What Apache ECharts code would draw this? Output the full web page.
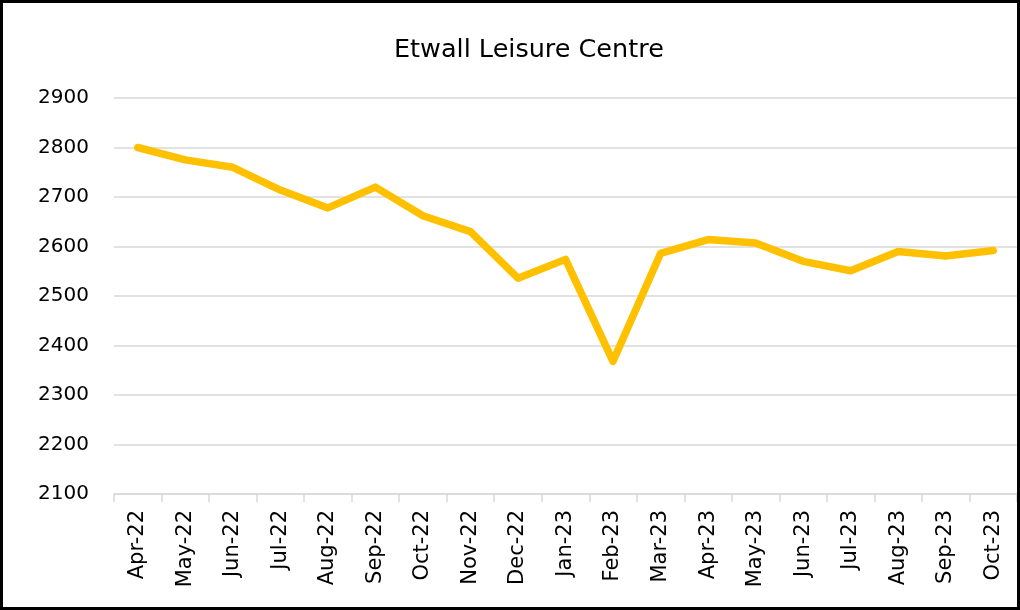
<!DOCTYPE html>
<html>
<head>
<meta charset="utf-8">
<script src="https://cdn.jsdelivr.net/npm/echarts@6/dist/echarts.min.js"></script>
<style>
  html, body { margin: 0; padding: 0; background: #fff; }
  #wrap { position: relative; width: 1020px; height: 610px; }
  #main { width: 1020px; height: 610px; }
  #frame { position: absolute; left: 0; top: 0; width: 1020px; height: 610px;
           box-sizing: border-box; border: 3px solid #000; pointer-events: none; }
</style>
</head>
<body>
<div id="wrap">
  <div id="main"></div>
  <div id="frame"></div>
</div>
<script>
var months = ['Apr-22', 'May-22', 'Jun-22', 'Jul-22', 'Aug-22', 'Sep-22', 'Oct-22', 'Nov-22', 'Dec-22',
  'Jan-23', 'Feb-23', 'Mar-23', 'Apr-23', 'May-23', 'Jun-23', 'Jul-23', 'Aug-23', 'Sep-23', 'Oct-23'];
var visits = [2800, 2775, 2760, 2714, 2678, 2720, 2662, 2630, 2536,
  2574, 2368, 2586, 2614, 2607, 2570, 2551, 2590, 2581, 2592];

var myChart = echarts.init(document.getElementById('main'), null, { renderer: 'canvas' });

var option = {
  animation: false,
  title: {
    text: 'Etwall Leisure Centre',
    left: 389,
    top: 32,
    textStyle: { fontFamily: 'DejaVu Sans', fontSize: 25.5, fontWeight: 'normal', color: '#000' }
  },
  grid: { left: 114, right: 3, top: 98, bottom: 116, containLabel: false },
  xAxis: {
    type: 'category',
    data: months,
    boundaryGap: true,
    axisLine: { lineStyle: { color: '#d9d9d9', width: 1.5 } },
    axisTick: { show: true, length: 8, lineStyle: { color: '#d9d9d9', width: 1.5 } },
    axisLabel: { rotate: 90, interval: 0, margin: 16, fontFamily: 'DejaVu Sans', fontSize: 21, color: '#000' }
  },
  yAxis: {
    type: 'value',
    min: 2100,
    max: 2900,
    interval: 100,
    axisLine: { show: false },
    axisTick: { show: false },
    splitLine: { lineStyle: { color: '#d9d9d9', width: 1.5 } },
    axisLabel: {
      margin: 25,
      fontFamily: 'DejaVu Sans',
      fontSize: 20,
      color: '#000',
      formatter: function (v) { return String(v); }
    }
  },
  series: [{
    type: 'line',
    data: visits,
    showSymbol: false,
    symbol: 'none',
    lineStyle: { color: '#FFC000', width: 7.5, cap: 'round', join: 'round' }
  }]
};

myChart.setOption(option);
window.addEventListener('resize', myChart.resize);
</script>
</body>
</html>
